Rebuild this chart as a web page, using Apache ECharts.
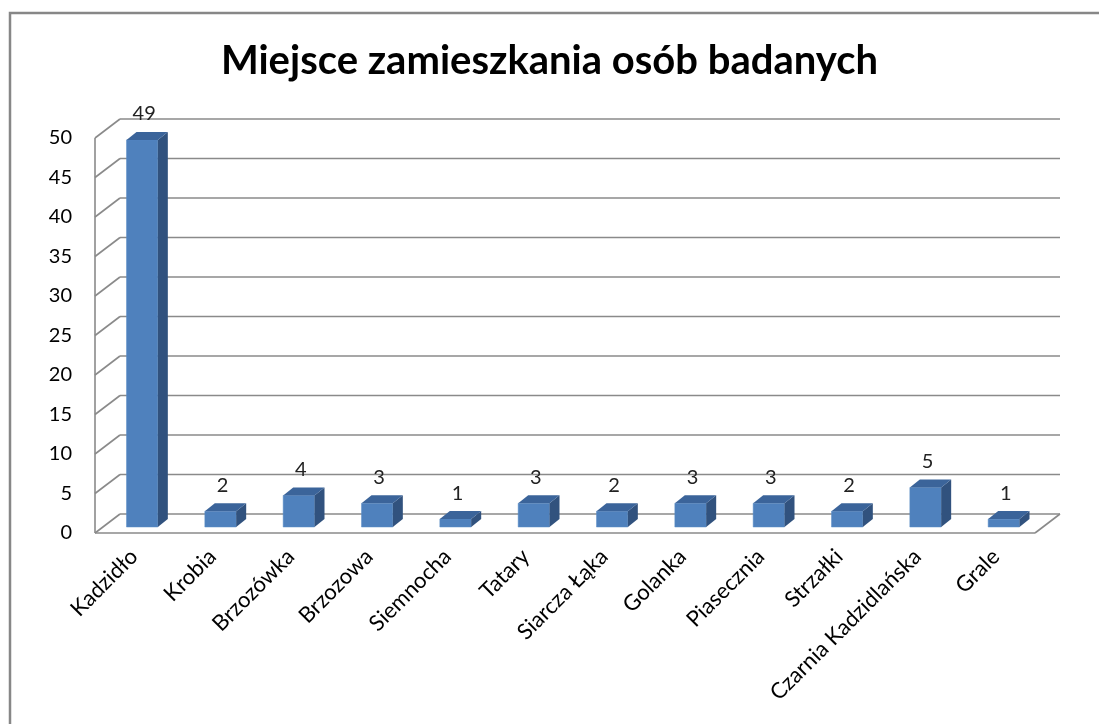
<!DOCTYPE html>
<html>
<head>
<meta charset="utf-8">
<script src="https://cdn.jsdelivr.net/npm/echarts@6/dist/echarts.min.js"></script>
<style>
  html, body { margin: 0; padding: 0; background: #fff; }
  #main { width: 1099px; height: 724px; }
</style>
</head>
<body>
<div id="main"></div>
<script>
var categories = ['Kadzidło', 'Krobia', 'Brzozówka', 'Brzozowa', 'Siemnocha', 'Tatary',
  'Siarcza Łąka', 'Golanka', 'Piasecznia', 'Strzałki', 'Czarnia Kadzidlańska', 'Grale'];
var counts = [49, 2, 4, 3, 1, 3, 2, 3, 3, 2, 5, 1];
var yTicks = [0, 5, 10, 15, 20, 25, 30, 35, 40, 45, 50];

// 3d look
var DX = 25, DY = 19;        // wall depth
var BDX = 8, BDY = 6;        // bar front offset
var SDX = 10, SDY = 8;       // bar side depth
var gridColor = '#8a8a8a';

var chart = echarts.init(document.getElementById('main'));

function wallItem(params, api) {
  var cs = params.coordSys;
  var v = api.value(0);
  var y = api.coord([0, v])[1];
  var left = cs.x, right = cs.x + cs.width;
  var st = { stroke: gridColor, lineWidth: 1.6 };
  var kids = [
    { type: 'line', shape: { x1: left, y1: y, x2: left + DX, y2: y - DY }, style: st },
    { type: 'line', shape: { x1: left + DX, y1: y - DY, x2: right + DX, y2: y - DY }, style: st }
  ];
  if (v === 0) {
    var yTop = api.coord([0, 50])[1];
    kids.push({ type: 'line', shape: { x1: left, y1: y, x2: left, y2: yTop }, style: st });
    kids.push({ type: 'line', shape: { x1: left, y1: y, x2: right, y2: y }, style: st });
    kids.push({ type: 'line', shape: { x1: right, y1: y, x2: right + DX, y2: y - DY }, style: st });
  }
  return { type: 'group', children: kids };
}

function barItem(params, api) {
  var i = api.value(0), v = api.value(1);
  var base = api.coord([i, 0]);
  var top = api.coord([i, v]);
  var w = api.size([1, 0])[0] * 0.4;
  var cx = base[0] + BDX;
  var x0 = cx - w / 2, x1 = cx + w / 2;
  var yb = base[1] - BDY, yt = top[1] - BDY;
  return {
    type: 'group',
    children: [
      { type: 'rect', shape: { x: x0, y: yt, width: w, height: yb - yt },
        style: { fill: '#4f81bd', stroke: '#5b8cc6', lineWidth: 0.5 } },
      { type: 'polygon', shape: { points: [[x1, yt], [x1 + SDX, yt - SDY], [x1 + SDX, yb - SDY], [x1, yb]] },
        style: { fill: '#31527e' } },
      { type: 'polygon', shape: { points: [[x0, yt], [x0 + SDX, yt - SDY], [x1 + SDX, yt - SDY], [x1, yt]] },
        style: { fill: '#3b649a' } },
      { type: 'text', x: cx + 2, y: yt - SDY - 8,
        style: { text: String(v), fill: '#222', font: '20px Lato', align: 'center', verticalAlign: 'bottom' } }
    ]
  };
}

chart.setOption({
  backgroundColor: '#fff',
  animation: false,
  title: {
    text: 'Miejsce zamieszkania osób badanych',
    left: 'center',
    top: 36,
    textStyle: { fontFamily: 'Lato', fontWeight: 'bold', fontSize: 40, color: '#000' }
  },
  graphic: [{
    type: 'polyline',
    shape: { points: [[10, 730], [10, 13], [1105, 13]] },
    style: { stroke: '#878787', lineWidth: 2.5, fill: null }
  }],
  grid: { left: 95, right: 64, top: 138, bottom: 191 },
  xAxis: {
    type: 'category',
    data: categories,
    axisLine: { show: false },
    axisTick: { show: false },
    axisLabel: { rotate: 45, interval: 0, margin: 20, fontFamily: 'Lato', fontSize: 22, color: '#000' }
  },
  yAxis: {
    type: 'value',
    min: 0, max: 50, interval: 5,
    axisLine: { show: false },
    axisTick: { show: false },
    splitLine: { show: false },
    axisLabel: { margin: 23, fontFamily: 'Lato', fontSize: 20, color: '#000' }
  },
  series: [
    {
      type: 'custom',
      renderItem: wallItem,
      data: yTicks.map(function (t) { return [t]; }),
      encode: { y: 0 },
      silent: true,
      z: 1
    },
    {
      type: 'custom',
      renderItem: barItem,
      data: counts.map(function (c, i) { return [i, c]; }),
      encode: { x: 0, y: 1 },
      z: 5
    }
  ]
});
</script>
</body>
</html>
